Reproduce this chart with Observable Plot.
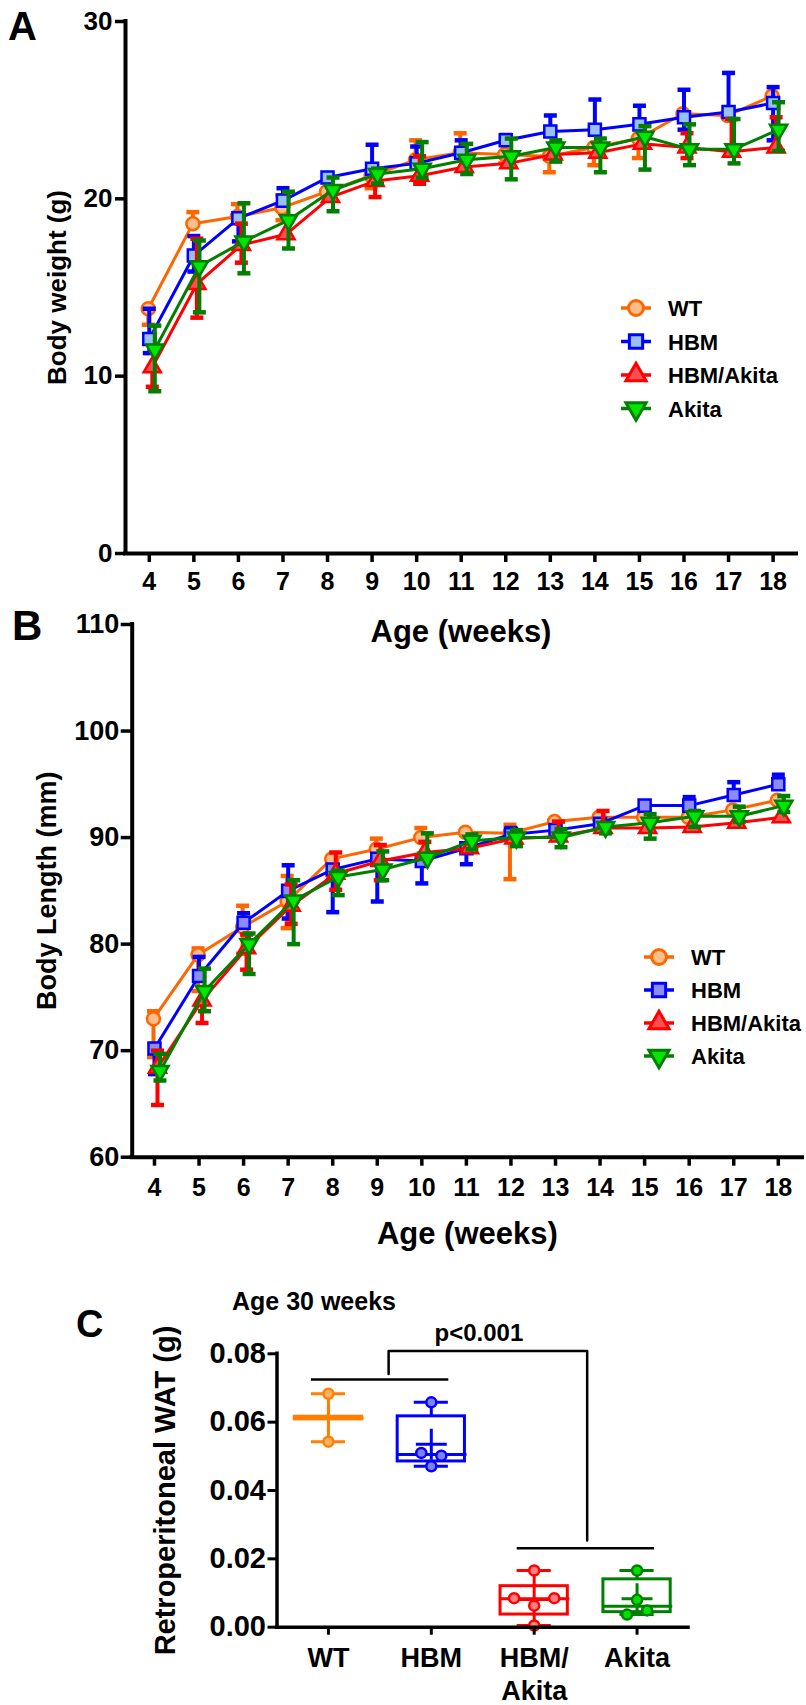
<!DOCTYPE html>
<html>
<head>
<meta charset="utf-8">
<script src="https://cdn.jsdelivr.net/npm/d3@7"></script>
<script src="https://cdn.jsdelivr.net/npm/@observablehq/plot@0.6"></script>
<style>
html, body { margin: 0; padding: 0; background: #fff; }
#page { position: relative; width: 806px; height: 1705px; overflow: hidden; background: #fff; }
</style>
</head>
<body>
<div id="page"></div>
<script>
// ---------------- DATA ----------------
const weeks = [4, 5, 6, 7, 8, 9, 10, 11, 12, 13, 14, 15, 16, 17, 18];
const seriesNames = ["WT", "HBM", "HBM/Akita", "Akita"];

// Panel A: body weight (g), mean and error-bar ends
const wtWeight     = [13.8, 18.6, 19.0, 19.5, 20.4, 21.3, 22.2, 22.6, 22.5, 22.4, 22.9, 23.4, 24.8, 24.7, 25.8];
const wtWeightLo   = [12.9, 18.6, 19.0, 18.8, 20.4, 20.6, 22.2, 22.6, 22.0, 21.5, 21.9, 22.3, 24.8, 24.7, 25.8];
const wtWeightHi   = [13.8, 19.25, 19.7, 20.2, 20.4, 21.3, 23.3, 23.7, 22.5, 22.4, 22.9, 23.4, 24.8, 24.7, 25.8];
const hbmWeight    = [12.1, 16.8, 18.9, 19.9, 21.2, 21.7, 22.0, 22.6, 23.3, 23.8, 23.9, 24.2, 24.6, 24.9, 25.4];
const hbmWeightLo  = [11.3, 15.9, 17.6, 19.9, 21.2, 21.7, 22.0, 22.6, 23.3, 23.8, 23.9, 24.2, 23.9, 24.9, 23.3];
const hbmWeightHi  = [13.8, 17.9, 18.9, 20.6, 21.2, 23.05, 22.95, 23.3, 23.6, 24.7, 25.6, 25.25, 26.15, 27.1, 26.3];
const haWeight     = [10.5, 15.2, 17.4, 18.0, 20.1, 21.0, 21.3, 21.8, 22.0, 22.5, 22.6, 23.1, 22.9, 22.65, 22.9];
const haWeightLo   = [9.4, 13.3, 16.4, 18.0, 20.1, 20.1, 20.85, 21.8, 22.0, 22.5, 22.6, 23.1, 22.3, 22.65, 22.9];
const haWeightHi   = [10.5, 17.75, 18.6, 18.0, 20.1, 21.0, 22.4, 21.8, 22.0, 22.5, 22.6, 23.1, 23.7, 24.5, 24.6];
const akWeight     = [11.5, 16.2, 17.6, 18.8, 20.5, 21.4, 21.7, 22.2, 22.4, 22.9, 22.9, 23.5, 22.8, 22.8, 23.9];
const akWeightLo   = [9.15, 13.6, 15.8, 17.2, 19.3, 20.85, 21.2, 21.4, 21.1, 22.1, 21.5, 21.65, 21.9, 22.0, 22.7];
const akWeightHi   = [12.85, 17.65, 19.75, 20.4, 21.2, 21.7, 23.2, 23.1, 23.4, 23.3, 23.4, 24.1, 24.2, 24.5, 25.45];

// Panel B: body length (mm)
const wtLength     = [73.0, 79.0, 81.6, 84.0, 88.0, 88.9, 90.0, 90.5, 90.4, 91.5, 91.9, 91.9, 91.9, 92.6, 93.5];
const wtLengthLo   = [69.4, 75.6, 79.1, 81.5, 88.0, 88.9, 90.0, 90.5, 86.1, 91.5, 91.9, 91.9, 91.9, 92.6, 93.5];
const wtLengthHi   = [73.7, 79.6, 83.6, 86.4, 88.0, 89.9, 90.9, 90.5, 91.2, 91.5, 91.9, 91.9, 91.9, 92.6, 93.5];
const hbmLength    = [70.2, 77.0, 82.0, 85.0, 87.0, 88.0, 87.8, 89.0, 90.3, 90.7, 91.3, 93.0, 93.0, 94.0, 95.0];
const hbmLengthLo  = [67.8, 77.0, 82.0, 82.4, 83.0, 84.0, 85.7, 87.5, 90.3, 90.7, 91.3, 93.0, 93.0, 94.0, 95.0];
const hbmLengthHi  = [70.2, 78.8, 82.9, 87.4, 87.0, 88.0, 87.8, 89.0, 90.9, 90.7, 91.3, 93.0, 93.8, 95.2, 95.9];
const haLength     = [68.4, 74.7, 79.6, 83.6, 86.6, 87.8, 88.6, 89.0, 89.9, 90.1, 90.9, 90.9, 91.0, 91.4, 91.9];
const haLengthLo   = [64.9, 72.6, 77.6, 81.9, 85.1, 86.0, 88.6, 89.0, 89.9, 90.1, 90.9, 90.9, 91.0, 91.4, 91.9];
const haLengthHi   = [70.0, 74.7, 80.9, 85.6, 88.6, 89.3, 89.6, 89.0, 89.9, 91.5, 92.5, 90.9, 91.0, 91.4, 91.9];
const akLength     = [68.1, 75.6, 80.0, 84.1, 86.3, 87.0, 88.1, 89.7, 90.0, 90.0, 91.0, 91.4, 92.0, 92.0, 93.0];
const akLengthLo   = [67.2, 73.7, 77.2, 80.0, 84.6, 86.0, 88.1, 88.9, 89.2, 89.1, 90.4, 89.9, 91.0, 91.5, 92.4];
const akLengthHi   = [69.7, 77.7, 81.0, 86.0, 86.9, 88.7, 90.4, 90.3, 90.7, 90.8, 91.3, 92.2, 92.5, 92.9, 93.9];

// Panel C: retroperitoneal WAT (g) at 30 weeks
const fatGroups   = ["WT", "HBM", "HBM/\nAkita", "Akita"];
const wtFat       = [0.0683, 0.0543];
const hbmFat      = [0.0658, 0.0510, 0.0502, 0.0471];
const haFat       = [0.0166, 0.0085, 0.0063, 0.0085, 0.0005];
const akFat       = [0.0166, 0.0080, 0.0037, 0.0049];
const fatQ1       = [0.0608, 0.0485, 0.0037, 0.0044];
const fatMedian   = [0.0612, 0.0505, 0.0083, 0.0061];
const fatQ3       = [0.0616, 0.0617, 0.0120, 0.0140];
const compareY    = [0.0725, 0.0231];
const bracketX    = [0.585, 0.585, 2.515, 2.515];
const bracketY    = [0.0741, 0.0808, 0.0808, 0.0254];
const pText       = "p<0.001";

// ---------------- STYLE ----------------
const FONT = '"Liberation Sans", Arial, Helvetica, sans-serif';
const capSymbol = { draw(ctx, size) { const w = Math.sqrt(size / Math.PI); ctx.moveTo(-w, 0); ctx.lineTo(w, 0); } };
const triangleDown = { draw(ctx, size) {
  const s3 = Math.sqrt(3), y = -Math.sqrt(size / (s3 * 3));
  ctx.moveTo(0, -y * 2); ctx.lineTo(-s3 * y, y); ctx.lineTo(s3 * y, y); ctx.closePath();
} };
const seriesStyle = {
  "WT":        {stroke: "#FF6600", fillA: "#FFBE8A", fillB: "#FFBE8A", symbol: "circle",   d3sym: d3.symbolCircle,   r: 6.5, dx: -1},
  "HBM":       {stroke: "#0000FF", fillA: "#99C0F2", fillB: "#8C8CFF", symbol: "square",   d3sym: d3.symbolSquare,   r: 6.8, dx: 0},
  "HBM/Akita": {stroke: "#FF0000", fillA: "#FF5050", fillB: "#FF5050", symbol: "triangle", d3sym: d3.symbolTriangle, r: 6.4, dx: 3},
  "Akita":     {stroke: "#007F00", fillA: "#00E600", fillB: "#00E600", symbol: triangleDown, d3sym: triangleDown,   r: 6.4, dx: 5.5}
};
const fatColors = ["#FF8000", "#0000FF", "#FF0000", "#008000"];
const fatFills  = ["#FFB060", "#8080FF", "#FF8080", "#00E000"];

const page = document.getElementById("page");

function place(svg, top) {
  svg.style.position = "absolute";
  svg.style.left = "0px";
  svg.style.top = top + "px";
  svg.style.background = "transparent";
  page.appendChild(svg);
}

function timePanel(cfg) {
  const marks = [];
  for (const name of seriesNames) {
    const st = seriesStyle[name];
    const s = cfg.series[name];
    const data = weeks.map((w, i) => ({week: w, mean: s.mean[i], lo: s.lo[i], hi: s.hi[i]}));
    const common = {x: "week", stroke: st.stroke, dx: st.dx};
    marks.push(Plot.ruleX(data.filter(d => d.lo < d.hi), {...common, y1: "lo", y2: "hi", strokeWidth: 4}));
    marks.push(Plot.dot(data.filter(d => d.lo < d.mean), {...common, y: "lo", symbol: capSymbol, r: 6.5, fill: "none", strokeWidth: 4.5}));
    marks.push(Plot.dot(data.filter(d => d.hi > d.mean), {...common, y: "hi", symbol: capSymbol, r: 6.5, fill: "none", strokeWidth: 4.5}));
    marks.push(Plot.line(data, {...common, y: "mean", strokeWidth: 3}));
    marks.push(Plot.dot(data, {...common, y: "mean", symbol: st.symbol, r: st.r, fill: cfg.panel === "A" ? st.fillA : st.fillB, strokeWidth: 2.5}));
  }
  marks.push(Plot.ruleY([cfg.yDomain[0]], {stroke: "black", strokeWidth: 4, strokeLinecap: "square"}));
  marks.push(Plot.ruleX([cfg.xDomain[0]], {stroke: "black", strokeWidth: 4, strokeLinecap: "square"}));
  marks.push(Plot.axisX({ticks: weeks, tickFormat: d => String(d), tickSize: 9, tickPadding: cfg.xPad, strokeWidth: 3.5,
                         fontSize: 25, fontWeight: "bold", label: null}));
  marks.push(Plot.axisY({ticks: cfg.yTicks, tickFormat: d => String(d), tickSize: cfg.yTickSize, tickPadding: cfg.yPad, strokeWidth: 3.5,
                         fontSize: cfg.yFont, fontWeight: "bold", label: null}));
  marks.push(Plot.text(["Age (weeks)"], {text: d => d, frameAnchor: "bottom", lineAnchor: "middle", dy: cfg.xLabelDy,
                                         fontSize: 31, fontWeight: "bold"}));
  marks.push(Plot.text([cfg.yLabel], {text: d => d, frameAnchor: "left", textAnchor: "middle", lineAnchor: "middle", rotate: -90,
                                      dx: cfg.yLabelDx, fontSize: cfg.yLabelFont, fontWeight: "bold"}));
  return Plot.plot({
    width: 806, height: cfg.height,
    marginLeft: cfg.marginLeft, marginRight: cfg.marginRight, marginTop: cfg.marginTop, marginBottom: cfg.marginBottom,
    x: {domain: cfg.xDomain},
    y: {domain: cfg.yDomain},
    style: {fontFamily: FONT, fontWeight: "bold", background: "transparent", overflow: "visible"},
    marks
  });
}

// Panel A
const svgA = timePanel({
  panel: "A", height: 650, marginLeft: 125, marginRight: 10, marginTop: 21, marginBottom: 97,
  xDomain: [3.466, 18.525], yDomain: [0, 30], yTicks: [0, 10, 20, 30],
  xPad: 10, yTickSize: 10, yPad: 3, yFont: 26, xLabelDy: 79, yLabel: "Body weight (g)", yLabelDx: -68, yLabelFont: 26,
  series: {
    "WT": {mean: wtWeight, lo: wtWeightLo, hi: wtWeightHi},
    "HBM": {mean: hbmWeight, lo: hbmWeightLo, hi: hbmWeightHi},
    "HBM/Akita": {mean: haWeight, lo: haWeightLo, hi: haWeightHi},
    "Akita": {mean: akWeight, lo: akWeightLo, hi: akWeightHi}
  }
});
place(svgA, 0);

// Panel B
const svgB = timePanel({
  panel: "B", height: 660, marginLeft: 131.7, marginRight: 4, marginTop: 24, marginBottom: 103.3,
  xDomain: [3.5, 18.543], yDomain: [60, 110], yTicks: [60, 70, 80, 90, 100, 110],
  xPad: 12, yTickSize: 11, yPad: 2, yFont: 27, xLabelDy: 77, yLabel: "Body Length (mm)", yLabelDx: -85, yLabelFont: 27,
  series: {
    "WT": {mean: wtLength, lo: wtLengthLo, hi: wtLengthHi},
    "HBM": {mean: hbmLength, lo: hbmLengthLo, hi: hbmLengthHi},
    "HBM/Akita": {mean: haLength, lo: haLengthLo, hi: haLengthHi},
    "Akita": {mean: akLength, lo: akLengthLo, hi: akLengthHi}
  }
});
place(svgB, 600);

// Panel C
const fatPoints = [wtFat, hbmFat, haFat, akFat];
function spread(values, thresh) {
  const idx = values.map((v, i) => i).sort((a, b) => values[a] - values[b]);
  const clusters = [];
  let cur = [idx[0]];
  for (let k = 1; k < idx.length; k++) {
    if (values[idx[k]] - values[idx[k - 1]] < thresh) cur.push(idx[k]);
    else { clusters.push(cur); cur = [idx[k]]; }
  }
  clusters.push(cur);
  const off = new Array(values.length).fill(0);
  for (const c of clusters) { c.sort((a, b) => a - b); c.forEach((j, m) => off[j] = m - (c.length - 1) / 2); }
  return off;
}
const BOXW = 0.327, CAPW = 0.166, STEP = 0.195;
const boxData = fatGroups.map((g, i) => ({
  i, q1: fatQ1[i], med: fatMedian[i], q3: fatQ3[i],
  min: d3.min(fatPoints[i]), max: d3.max(fatPoints[i]), mean: d3.mean(fatPoints[i]),
  color: fatColors[i], fill: fatFills[i]
}));
const pointData = fatPoints.flatMap((vals, i) => {
  const off = spread(vals, 0.0025);
  return vals.map((v, j) => ({x: i + off[j] * STEP, v, color: fatColors[i], fill: fatFills[i]}));
});
const compareData = [[0, 1], [2, 3]].map((p, k) => ({x1: p[0] - 0.165, x2: p[1] + 0.17, y: compareY[k]}));
const bracketData = bracketX.map((x, k) => ({x, y: bracketY[k]}));

const svgC = Plot.plot({
  width: 806, height: 425,
  marginLeft: 276.5, marginRight: 118, marginTop: 73.3, marginBottom: 78.3,
  x: {domain: [-0.5, 3.5]},
  y: {domain: [0, 0.08]},
  color: {type: "identity"},
  style: {fontFamily: FONT, fontWeight: "bold", background: "transparent", overflow: "visible"},
  marks: [
    Plot.ruleX(boxData, {x: "i", y1: "q3", y2: "max", stroke: "color", strokeWidth: 3}),
    Plot.ruleX(boxData, {x: "i", y1: "min", y2: "q1", stroke: "color", strokeWidth: 3}),
    Plot.ruleY(boxData, {y: "max", x1: d => d.i - CAPW, x2: d => d.i + CAPW, stroke: "color", strokeWidth: 3}),
    Plot.ruleY(boxData, {y: "min", x1: d => d.i - CAPW, x2: d => d.i + CAPW, stroke: "color", strokeWidth: 3}),
    Plot.rect(boxData, {x1: d => d.i - BOXW, x2: d => d.i + BOXW, y1: "q1", y2: "q3", fill: "white", stroke: "color", strokeWidth: 3}),
    Plot.ruleY(boxData, {y: "med", x1: d => d.i - BOXW, x2: d => d.i + BOXW + 0.02, stroke: "color", strokeWidth: 3}),
    Plot.dot(boxData, {x: "i", y: "mean", symbol: "plus", r: 10, stroke: "color", strokeWidth: 3}),
    Plot.dot(pointData, {x: "x", y: "v", r: 5, stroke: "color", fill: "fill", strokeWidth: 2.5}),
    Plot.ruleY(compareData, {x1: "x1", x2: "x2", y: "y", stroke: "black", strokeWidth: 2.5}),
    Plot.line(bracketData, {x: "x", y: "y", stroke: "black", strokeWidth: 2.5}),
    Plot.text([pText], {text: d => d, x: () => (bracketX[0] + bracketX[2]) / 2, y: () => d3.max(bracketY),
                        dx: -9, dy: -18, lineAnchor: "middle", fontSize: 24, fontWeight: "bold"}),
    Plot.ruleY([0], {stroke: "black", strokeWidth: 3.5, strokeLinecap: "square"}),
    Plot.ruleX([-0.5], {stroke: "black", strokeWidth: 3.5, strokeLinecap: "square"}),
    Plot.axisX({ticks: [0, 1, 2, 3], tickFormat: i => fatGroups[i], tickSize: 8, tickPadding: 8, strokeWidth: 3,
                fontSize: 27, fontWeight: "bold", lineHeight: 1.22, label: null}),
    Plot.axisY({ticks: [0, 0.02, 0.04, 0.06, 0.08], tickFormat: d3.format(".2f"), tickSize: 9, tickPadding: 2, strokeWidth: 3,
                fontSize: 29, fontWeight: "bold", label: null}),
    Plot.text(["Retroperitoneal WAT (g)"], {text: d => d, frameAnchor: "left", textAnchor: "middle", lineAnchor: "middle",
                rotate: -90, dx: -111, fontSize: 29, fontWeight: "bold"})
  ]
});
place(svgC, 1280);

// ---------------- Overlay: panel letters, legends, subtitle ----------------
const ov = d3.select(page).append("svg")
  .attr("width", 806).attr("height", 1705)
  .style("position", "absolute").style("left", "0px").style("top", "0px")
  .style("font-family", FONT).style("font-weight", "bold");

function letter(t, x, y, size) {
  ov.append("text").attr("x", x).attr("y", y).attr("font-size", size).text(t);
}
letter("A", 8, 40, 40);
letter("B", 12, 640, 42);
letter("C", 76, 1337, 38);
ov.append("text").attr("x", 232).attr("y", 1310).attr("font-size", 25).text("Age 30 weeks");

function legend(cx, tx, rows, panel) {
  seriesNames.forEach((name, k) => {
    const st = seriesStyle[name];
    const y = rows[k];
    ov.append("line").attr("x1", cx - 15).attr("x2", cx + 15).attr("y1", y).attr("y2", y)
      .attr("stroke", st.stroke).attr("stroke-width", 3.5);
    ov.append("path").attr("transform", `translate(${cx},${y})`)
      .attr("d", d3.symbol(st.d3sym, Math.PI * 7.5 * 7.5)())
      .attr("fill", panel === "A" ? st.fillA : st.fillB).attr("stroke", st.stroke).attr("stroke-width", 3);
    ov.append("text").attr("x", tx).attr("y", y + 8).attr("font-size", 22).text(name);
  });
}
legend(636, 668, [308, 341.5, 375, 408.5], "A");
legend(659, 691, [957, 990, 1023, 1056], "B");
</script>
</body>
</html>
